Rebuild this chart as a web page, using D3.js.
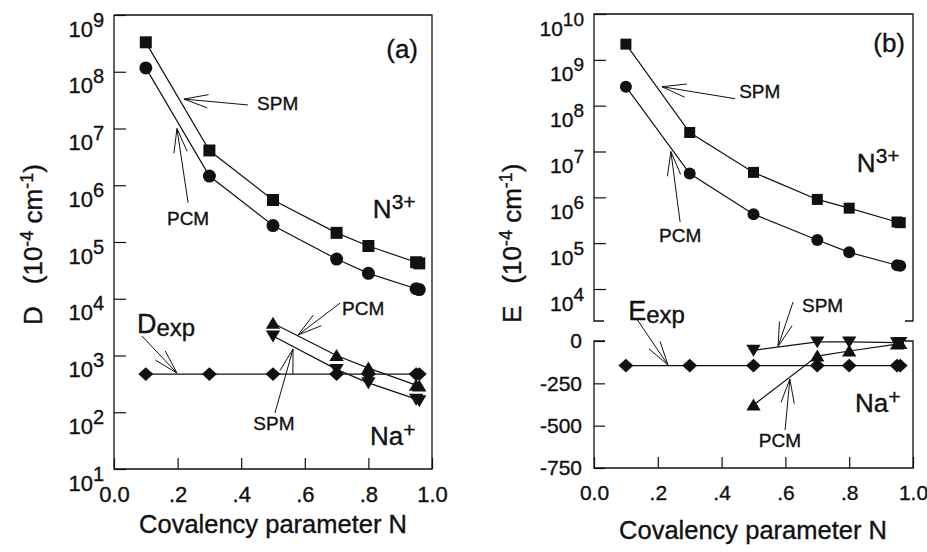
<!DOCTYPE html>
<html>
<head>
<meta charset="utf-8">
<script src="https://cdn.jsdelivr.net/npm/d3@7"></script>
<style>
  body { margin: 0; background: #fff; }
  svg { display: block; font-family: "Liberation Sans", Arial, Helvetica, sans-serif; }
  svg text { stroke: #111; stroke-width: 0.35px; }
</style>
</head>
<body>
<div id="chart"></div>
<script>
// covalency parameter N
const nAll = [0.1, 0.3, 0.5, 0.7, 0.8, 0.95, 0.96];
const nNa  = [0.5, 0.7, 0.8, 0.95, 0.96];

// (a) D (1e-4 cm-1)
const dSpmN3 = [3.3e8, 4.1e6, 5.5e5, 1.45e5, 8.5e4, 4.4e4, 4.2e4];
const dPcmN3 = [1.17e8, 1.45e6, 1.95e5, 5.0e4, 2.8e4, 1.5e4, 1.45e4];
const dPcmNa = [3700, 1000, 600, 300, 290];
const dSpmNa = [2200, 570, 330, 170, 160];
const dExp   = [470, 470, 470, 470, 470, 470, 470];

// (b) E (1e-4 cm-1)
const eSpmN3 = [2.2e9, 2.6e7, 3.5e6, 9.0e5, 5.8e5, 2.9e5, 2.8e5];
const ePcmN3 = [2.6e8, 3.3e6, 4.3e5, 1.17e5, 6.3e4, 3.3e4, 3.2e4];
const eSpmNa = [-55, -5, -5, -10, -8];
const ePcmNa = [-378, -89, -59, -18, -15];
const eExp   = [-145, -145, -145, -145, -145, -145, -145];

// ticks
const xTicks = [0, 0.2, 0.4, 0.6, 0.8, 1.0];
const dExpTicks = [1, 2, 3, 4, 5, 6, 7, 8, 9];
const eExpTicks = [4, 5, 6, 7, 8, 9, 10];
const eLinTicks = [0, -250, -500, -750];

// annotations (data coords): tail -> tip
const arrowsA = [
  { tail: [0.421, 2.6e7], tip: [0.220, 3.3e7] },
  { tail: [0.233, 4.9e5], tip: [0.198, 1.0e7] },
  { tail: [0.088, 2200],  tip: [0.198, 490] },
  { tail: [0.711, 8400],  tip: [0.579, 2300] },
  { tail: [0.506, 97],    tip: [0.563, 1300] }
];
const labelsA = [
  { x: 0.450, y: 2.1e7, text: "SPM", anchor: "start" },
  { x: 0.233, y: 2.0e5, text: "PCM", anchor: "middle" },
  { x: 0.717, y: 5170,  text: "PCM", anchor: "start" },
  { x: 0.503, y: 48.6,  text: "SPM", anchor: "middle" }
];
const arrowsBup = [
  { tail: [0.442, 1.42e8], tip: [0.213, 2.59e8] },
  { tail: [0.270, 2.86e5], tip: [0.241, 1.0e7] }
];
const labelsBup = [
  { x: 0.455, y: 1.49e8, text: "SPM", anchor: "start" },
  { x: 0.270, y: 1.05e5, text: "PCM", anchor: "middle" }
];
const arrowsBlo = [
  { tail: [0.132, 136],  tip: [0.232, -142] },
  { tail: [0.624, 230],  tip: [0.577, -32] },
  { tail: [0.599, -526], tip: [0.614, -225] }
];
const labelsBlo = [
  { x: 0.652, y: 171,  text: "SPM", anchor: "start" },
  { x: 0.583, y: -626, text: "PCM", anchor: "middle" }
];

const width = 927, height = 552;
const ink = "#111";

const svg = d3.select("#chart").append("svg")
    .attr("width", width)
    .attr("height", height)
    .attr("viewBox", [0, 0, width, height]);

// ---- scales
const xA = d3.scaleLinear().domain([0, 1]).range([114, 432]);
const yA = d3.scaleLog().domain([10, 1e9]).range([469, 15]);

const xB = d3.scaleLinear().domain([0, 1]).range([594, 913]);
const yBup = d3.scaleLog().domain([1e4, 1e10]).range([289, 14]);
const yBlo = d3.scaleLinear().domain([-750, 0]).range([468, 341]);
const bUpBottom = 321;

// ---- helpers
function markerPath(type, s) {
    if (type === "square") return `M${-s/2},${-s/2}h${s}v${s}h${-s}Z`;
    if (type === "circle") return d3.symbol(d3.symbolCircle, Math.PI * s * s / 4)();
    if (type === "diamond") {
        const w = s * 1.15, h = s * 1.05;
        return `M0,${-h/2}L${w/2},0L0,${h/2}L${-w/2},0Z`;
    }
    if (type === "up") return `M0,${-s*0.5}L${s*0.55},${s*0.42}L${-s*0.55},${s*0.42}Z`;
    if (type === "down") return `M0,${s*0.5}L${s*0.55},${-s*0.42}L${-s*0.55},${-s*0.42}Z`;
}

function drawSeries(g, x, y, xs, ys, type, size) {
    const pts = xs.map((d, i) => [d, ys[i]]);
    g.append("path")
        .datum(pts)
        .attr("d", d3.line().x(d => x(d[0])).y(d => y(d[1])))
        .attr("fill", "none")
        .attr("stroke", ink)
        .attr("stroke-width", 1.2);
    g.append("g").selectAll("path")
        .data(pts)
        .join("path")
        .attr("transform", d => `translate(${x(d[0])},${y(d[1])})`)
        .attr("d", markerPath(type, size))
        .attr("fill", ink);
}

function drawArrow(g, x, y, a) {
    const x1 = x(a.tail[0]), y1 = y(a.tail[1]);
    const x2 = x(a.tip[0]), y2 = y(a.tip[1]);
    const ang = Math.atan2(y1 - y2, x1 - x2);
    const L = 25, da = 0.27;
    const p = d3.path();
    p.moveTo(x1, y1); p.lineTo(x2, y2);
    p.moveTo(x2 + L * Math.cos(ang - da), y2 + L * Math.sin(ang - da));
    p.lineTo(x2, y2);
    p.lineTo(x2 + L * Math.cos(ang + da), y2 + L * Math.sin(ang + da));
    g.append("path").attr("d", p.toString())
        .attr("fill", "none").attr("stroke", ink).attr("stroke-width", 1);
}

function drawLabel(g, x, y, l) {
    g.append("text")
        .attr("x", x(l.x)).attr("y", y(l.y))
        .attr("text-anchor", l.anchor)
        .attr("font-size", 19)
        .attr("fill", ink)
        .text(l.text);
}

// base text + raised/lowered part
function scriptText(g, px, py, base, extra, dy, size1, size2, anchor) {
    const t = g.append("text")
        .attr("x", px).attr("y", py)
        .attr("text-anchor", anchor || "start")
        .attr("fill", ink);
    t.append("tspan").attr("font-size", size1).text(base);
    t.append("tspan").attr("font-size", size2).attr("dy", dy).text(extra);
    return t;
}

function logAxis(g, y, x0, exps, fs, fsSup) {
    const ax = g.append("g")
        .attr("transform", `translate(${x0},0)`)
        .call(d3.axisLeft(y)
            .tickValues(exps.map(e => Math.pow(10, e)))
            .tickSizeInner(-12).tickSizeOuter(0).tickPadding(11)
            .tickFormat(""));
    ax.select(".domain").remove();
    ax.selectAll(".tick line").attr("stroke", ink).attr("stroke-width", 1.2);
    ax.selectAll(".tick text").remove();
    ax.selectAll(".tick").each(function(d) {
        const e = Math.round(Math.log10(d));
        const t = d3.select(this).append("text")
            .attr("x", -10).attr("y", 21)
            .attr("text-anchor", "end")
            .attr("fill", ink)
            .attr("font-family", "Liberation Sans, Arial, sans-serif");
        t.append("tspan").attr("font-size", fs).text("10");
        t.append("tspan").attr("font-size", fsSup).attr("dy", -10).text(e);
    });
}

function xAxis(g, x, yPos, fs) {
    const ax = g.append("g")
        .attr("transform", `translate(0,${yPos})`)
        .call(d3.axisBottom(x)
            .tickValues(xTicks)
            .tickSizeInner(-11).tickSizeOuter(0).tickPadding(17)
            .tickFormat(d => d === 0 ? "0.0" : d === 1 ? "1.0" : "." + Math.round(d * 10)));
    ax.select(".domain").remove();
    ax.selectAll(".tick line").attr("stroke", ink).attr("stroke-width", 1.2);
    ax.selectAll(".tick text")
        .attr("font-size", fs)
        .attr("fill", ink)
        .attr("font-family", "Liberation Sans, Arial, sans-serif");
}

function yTitle(g, px, py, letter) {
    const t = g.append("text")
        .attr("transform", `translate(${px},${py}) rotate(-90)`)
        .attr("font-size", 26)
        .attr("fill", ink);
    t.append("tspan").text(letter);
    t.append("tspan").attr("dx", 22).text("(10");
    t.append("tspan").attr("font-size", 18).attr("dy", -9).text("-4");
    t.append("tspan").attr("dy", 9).text(" cm");
    t.append("tspan").attr("font-size", 18).attr("dy", -9).text("-1");
    t.append("tspan").attr("dy", 9).text(")");
}

function frameLine(g, pts) {
    g.append("path").attr("d", d3.line()(pts))
        .attr("fill", "none").attr("stroke", ink).attr("stroke-width", 1.3);
}

// ================= panel (a)
const gA = svg.append("g");
xAxis(gA, xA, 469, 22);
logAxis(gA, yA, 114, dExpTicks, 22, 20);
frameLine(gA, [[114, 15], [432, 15], [432, 469], [114, 469], [114, 15]]);

drawSeries(gA, xA, yA, nAll, dExp, "diamond", 13);
drawSeries(gA, xA, yA, nNa, dPcmNa, "up", 13);
drawSeries(gA, xA, yA, nNa, dSpmNa, "down", 13);
drawSeries(gA, xA, yA, nAll, dSpmN3, "square", 12);
drawSeries(gA, xA, yA, nAll, dPcmN3, "circle", 13);

arrowsA.forEach(a => drawArrow(gA, xA, yA, a));
labelsA.forEach(l => drawLabel(gA, xA, yA, l));

gA.append("text").attr("x", xA(0.956)).attr("y", yA(1.75e8))
    .attr("text-anchor", "end").attr("font-size", 26).attr("fill", ink).text("(a)");
scriptText(gA, xA(0.814), yA(2.65e5), "N", "3+", -9, 26, 21);
scriptText(gA, xA(0.805), yA(26.5), "Na", "+", -8, 26, 21);
scriptText(gA, xA(0.072), yA(2490), "D", "exp", 3, 27, 24);

yTitle(gA, 42, 325, "D");
gA.append("text").attr("x", 273).attr("y", 533)
    .attr("text-anchor", "middle").attr("font-size", 25.5).attr("fill", ink)
    .text("Covalency parameter N");

// ================= panel (b)
const gB = svg.append("g");
xAxis(gB, xB, 468, 21);
logAxis(gB, yBup, 594, eExpTicks, 21, 19);

const axLo = gB.append("g")
    .attr("transform", "translate(594,0)")
    .call(d3.axisLeft(yBlo)
        .tickValues(eLinTicks)
        .tickSizeInner(-11).tickSizeOuter(0).tickPadding(12)
        .tickFormat(d => String(d)));
axLo.select(".domain").remove();
axLo.selectAll(".tick line").attr("stroke", ink).attr("stroke-width", 1.2);
axLo.selectAll(".tick text").attr("font-size", 21).attr("fill", ink)
    .attr("font-family", "Liberation Sans, Arial, sans-serif");

// broken frame
frameLine(gB, [[604, bUpBottom], [594, bUpBottom], [594, 14], [913, 14], [913, bUpBottom], [905, bUpBottom]]);
frameLine(gB, [[605, 341], [594, 341], [594, 468], [913, 468], [913, 341], [905, 341]]);

drawSeries(gB, xB, yBup, nAll, eSpmN3, "square", 11);
drawSeries(gB, xB, yBup, nAll, ePcmN3, "circle", 12);

drawSeries(gB, xB, yBlo, nAll, eExp, "diamond", 13);
drawSeries(gB, xB, yBlo, nNa, ePcmNa, "up", 13);
drawSeries(gB, xB, yBlo, nNa, eSpmNa, "down", 13);

arrowsBup.forEach(a => drawArrow(gB, xB, yBup, a));
labelsBup.forEach(l => drawLabel(gB, xB, yBup, l));
arrowsBlo.forEach(a => drawArrow(gB, xB, yBlo, a));
labelsBlo.forEach(l => drawLabel(gB, xB, yBlo, l));

gB.append("text").attr("x", xB(0.975)).attr("y", yBup(1.49e9))
    .attr("text-anchor", "end").attr("font-size", 26).attr("fill", ink).text("(b)");
scriptText(gB, xB(0.824), yBup(3.49e6), "N", "3+", -9, 26, 21);
scriptText(gB, xB(0.818), yBlo(-419), "Na", "+", -8, 26, 21);
scriptText(gB, xB(0.107), yBlo(124), "E", "exp", 3, 27, 24);

yTitle(gB, 521, 323, "E");
gB.append("text").attr("x", 753).attr("y", 539)
    .attr("text-anchor", "middle").attr("font-size", 25.5).attr("fill", ink)
    .text("Covalency parameter N");
</script>
</body>
</html>
